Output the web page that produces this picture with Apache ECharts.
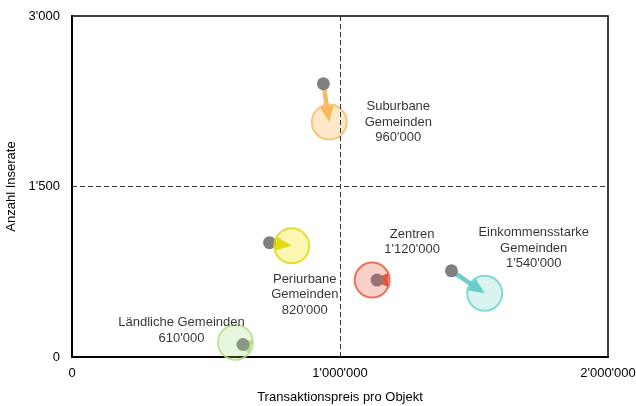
<!DOCTYPE html>
<html>
<head>
<meta charset="utf-8">
<script src="https://cdn.jsdelivr.net/npm/echarts@6/dist/echarts.min.js"></script>
<style>
  html, body { margin: 0; padding: 0; background: #fff; }
  #chart { width: 636px; height: 406px; }
</style>
</head>
<body>
<div id="chart"></div>
<script>
// Gemeindetypen: Transaktionspreis pro Objekt vs. Anzahl Inserate
const categories = [
  'Ländliche Gemeinden',
  'Periurbane\nGemeinden',
  'Suburbane\nGemeinden',
  'Zentren',
  'Einkommensstarke\nGemeinden'
];
// current position (bubble)
const priceNow    = [610000, 820000, 960000, 1120000, 1540000];
const listingsNow = [128, 978, 2067, 677, 560];
// earlier position (grey dot, arrow start)
const pricePrev    = [638000, 737000, 938000, 1138000, 1416000];
const listingsPrev = [110, 1006, 2404, 677, 758];
// axis ticks
const xTicks = [0, 1000000, 2000000];
const yTicks = [0, 1500, 3000];

// styling per category (same order as categories)
const palette = [
  { line: '#b5df8e', fill: 'rgba(170,220,130,0.32)', label: [-54, -12] },
  { line: '#ddd60c', fill: 'rgba(240,230,20,0.40)',  label: [13, 49] },
  { line: '#f8b966', fill: 'rgba(250,185,80,0.40)',  label: [69, 0] },
  { line: '#e8553a', fill: 'rgba(230,80,55,0.33)',   label: [40, -38] },
  { line: '#6acfc8', fill: 'rgba(100,205,198,0.30)', label: [49, -45] }
];

const FONT = '"Liberation Sans", Arial, sans-serif';
const TEXT = '#000';
const fmt = v => String(Math.round(v)).replace(/\B(?=(\d{3})+(?!\d))/g, "'");

const arrowData = categories.map((c, i) => [pricePrev[i], listingsPrev[i], priceNow[i], listingsNow[i], i]);
const dotData = categories.map((c, i) => [pricePrev[i], listingsPrev[i]]);
const bubbleData = categories.map((c, i) => ({
  name: c,
  value: [priceNow[i], listingsNow[i]],
  itemStyle: { color: palette[i].fill, borderColor: palette[i].line, borderWidth: 2 },
  label: { offset: palette[i].label }
}));

// arrow from the earlier position to the current one, tip ending at the bubble centre
function renderArrow(params, api) {
  const p0 = api.coord([api.value(0), api.value(1)]);
  const p1 = api.coord([api.value(2), api.value(3)]);
  const col = palette[api.value(4)].line;
  const dx = p1[0] - p0[0], dy = p1[1] - p0[1];
  const len = Math.sqrt(dx * dx + dy * dy) || 1;
  const ux = dx / len, uy = dy / len;
  const headL = 16, headW = 7;
  const bx = p1[0] - ux * headL, by = p1[1] - uy * headL;
  const children = [];
  if (len > headL) {
    children.push({
      type: 'line',
      shape: { x1: p0[0], y1: p0[1], x2: bx + ux, y2: by + uy },
      style: { stroke: col, lineWidth: 4.5 }
    });
  }
  children.push({
    type: 'polygon',
    shape: { points: [
      [p1[0], p1[1]],
      [bx - uy * headW, by + ux * headW],
      [bx + uy * headW, by - ux * headW]
    ] },
    style: { fill: col }
  });
  return { type: 'group', children };
}

const chart = echarts.init(document.getElementById('chart'), null, { renderer: 'canvas' });
chart.setOption({
  animation: false,
  textStyle: { fontFamily: FONT },
  grid: {
    left: 72, right: 28, top: 16, bottom: 49,
    containLabel: false,
    outerBoundsMode: 'none',
    show: true, borderColor: '#000', borderWidth: 1.5, backgroundColor: 'transparent'
  },
  xAxis: {
    type: 'value',
    min: xTicks[0], max: xTicks[xTicks.length - 1], interval: xTicks[1] - xTicks[0],
    name: 'Transaktionspreis pro Objekt',
    nameLocation: 'middle', nameGap: 34,
    nameTextStyle: { fontSize: 13, color: TEXT, fontFamily: FONT },
    axisLine: { show: true, onZero: false, lineStyle: { color: '#000', width: 2 } },
    axisTick: { show: false },
    splitLine: { show: false },
    axisLabel: { fontSize: 13, color: TEXT, margin: 10, fontFamily: FONT, formatter: fmt }
  },
  yAxis: {
    type: 'value',
    min: yTicks[0], max: yTicks[yTicks.length - 1], interval: yTicks[1] - yTicks[0],
    name: 'Anzahl Inserate',
    nameLocation: 'middle', nameGap: 52,
    nameTextStyle: { fontSize: 13, color: TEXT, fontFamily: FONT },
    axisLine: { show: true, onZero: false, lineStyle: { color: '#000', width: 2 } },
    axisTick: { show: false },
    splitLine: { show: false },
    axisLabel: { fontSize: 13, color: TEXT, margin: 12, fontFamily: FONT, formatter: fmt }
  },
  series: [
    {
      type: 'custom',
      z: 1,
      silent: true,
      renderItem: renderArrow,
      encode: { x: [0, 2], y: [1, 3] },
      data: arrowData
    },
    {
      type: 'scatter',
      z: 2,
      silent: true,
      symbol: 'circle',
      symbolSize: 13,
      itemStyle: { color: '#808080', opacity: 1 },
      data: dotData,
      markLine: {
        silent: true,
        symbol: 'none',
        label: { show: false },
        lineStyle: { color: '#333', width: 1, type: [5, 3] },
        data: [
          { xAxis: xTicks[1] },
          { yAxis: yTicks[1] }
        ]
      }
    },
    {
      type: 'scatter',
      z: 3,
      silent: true,
      symbol: 'circle',
      symbolSize: 35,
      data: bubbleData,
      label: {
        show: true,
        position: 'inside',
        align: 'center',
        verticalAlign: 'middle',
        fontSize: 13,
        lineHeight: 15.5,
        color: TEXT,
        fontFamily: FONT,
        formatter: p => p.name + '\n' + fmt(p.value[0])
      }
    }
  ]
});
</script>
</body>
</html>
